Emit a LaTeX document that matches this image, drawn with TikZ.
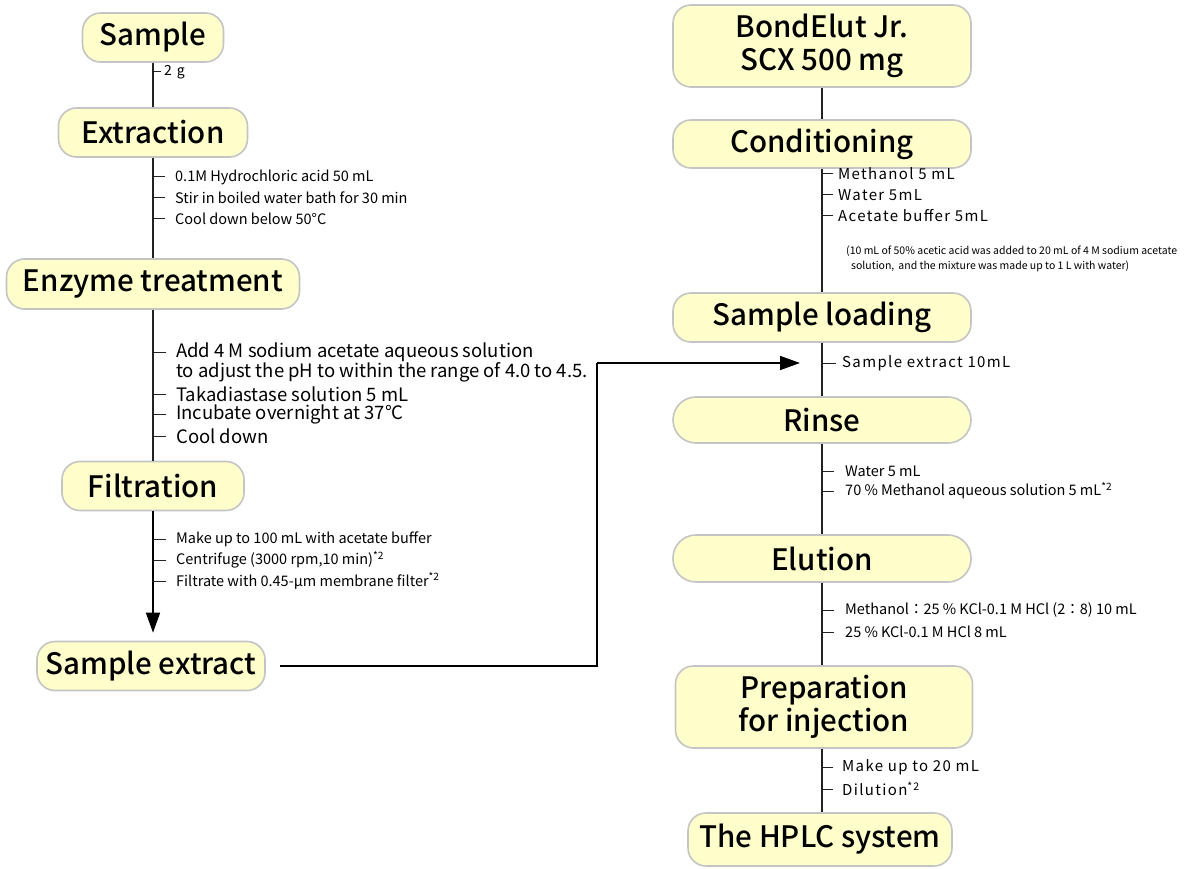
\documentclass[tikz,border=0pt]{standalone}
\usepackage{fontspec}
\setmainfont{Noto Sans CJK JP}[BoldFont={Noto Sans CJK JP Medium}]
\usetikzlibrary{arrows.meta,positioning}
\definecolor{boxfill}{RGB}{255,255,204}
\definecolor{boxline}{RGB}{196,196,196}
\definecolor{spine}{RGB}{34,34,34}
\tikzset{
  stepbox/.style={rectangle, rounded corners=18pt, draw=boxline, line width=1.6pt, fill=boxfill,
    align=center, inner sep=0pt, font=\fontsize{29.5}{33}\selectfont\bfseries},
  pillbox/.style={stepbox, rounded corners=23pt},
  link/.style={draw=spine, line width=1.4pt},
  tick/.style={draw=spine, line width=1pt},
  flow/.style={draw=black, line width=1.6pt, -{Triangle[length=20pt,width=14pt]}},
  note/.style={anchor=west, inner sep=0pt, font=\fontsize{14.5}{16}\selectfont},
  bignote/.style={anchor=west, inner sep=0pt, font=\fontsize{18.5}{20}\selectfont},
  wide/.style={anchor=west, inner sep=0pt, font=\fontsize{15}{17}\selectfont\addfontfeatures{LetterSpace=9}},
  tiny/.style={anchor=west, inner sep=0pt, font=\fontsize{10.5}{12}\selectfont}
}

\begin{document}
\begin{tikzpicture}[x=1pt, y=-1pt]
    \useasboundingbox (0,0) rectangle (1195,869);

    % Left column: sample preparation
    \node[stepbox, minimum width=141pt, minimum height=49pt] (sample) at (153,37.5) {Sample};
    \node[stepbox, minimum width=189pt, minimum height=49pt] (extraction) at (153,132.5) {Extraction};
    \node[stepbox, minimum width=293pt, minimum height=50pt] (enzyme) at (153,284) {Enzyme treatment};
    \node[stepbox, minimum width=182pt, minimum height=49pt] (filtration) at (153,486) {Filtration};
    \node[stepbox, minimum width=228pt, minimum height=49pt] (extract) at (151,666) {Sample extract};

    \draw[link] (sample) -- (extraction);
    \draw[link] (extraction) -- (enzyme);
    \draw[link] (enzyme) -- (filtration);
    \draw[flow, shorten >=8pt] (filtration) -- (filtration |- extract.north);

    % Left column: conditions
    \node[wide, font=\fontsize{14}{16}\selectfont\addfontfeatures{LetterSpace=12}] (grams) at (164,72) {2 g};
    \draw[tick] (153,72) -- ++(8,0);

    \node[note] (hcl) at (175,177) {0.1M Hydrochloric acid 50 mL};
    \node[note] (stir) at (175,198) {Stir in boiled water bath for 30 min};
    \node[note] (cool) at (175,219) {Cool down below 50°C};
    \foreach \y in {177,198,219} \draw[tick] (153,\y) -- ++(12,0);

    \node[bignote] (acetate) at (176,352) {Add 4 M sodium acetate aqueous solution};
    \node[bignote] (ph) at (176,372) {to adjust the pH to within the range of 4.0 to 4.5.};
    \node[bignote] (taka) at (176,394) {Takadiastase solution 5 mL};
    \node[bignote] (incubate) at (176,414) {Incubate overnight at 37°C};
    \node[bignote] (cooldown) at (176,436) {Cool down};
    \foreach \y in {352,394,414,436} \draw[tick] (153,\y) -- ++(13,0);

    \node[note] (makeup) at (176,539) {Make up to 100 mL with acetate buffer};
    \node[note] (centri) at (176,560) {Centrifuge (3000 rpm,10 min)\textsuperscript{*2}};
    \node[note] (filtrate) at (176,581) {Filtrate with 0.45-µm membrane filter\textsuperscript{*2}};
    \foreach \y in {539,560,581} \draw[tick] (153,\y) -- ++(13,0);

    % Right column: solid phase clean-up
    \node[stepbox, minimum width=298pt, minimum height=82pt] (column) at (822,46) {BondElut Jr.\\SCX 500 mg};
    \node[stepbox, minimum width=298pt, minimum height=48pt] (cond) at (822,144) {Conditioning};
    \node[stepbox, minimum width=298pt, minimum height=49pt] (loading) at (822,317.5) {Sample loading};
    \node[pillbox, minimum width=298pt, minimum height=46pt] (rinse) at (822,420) {Rinse};
    \node[pillbox, minimum width=298pt, minimum height=47pt] (elution) at (822,558.5) {Elution};
    \node[stepbox, minimum width=297pt, minimum height=82pt] (prep) at (824,707) {Preparation\\for injection};
    \node[stepbox, minimum width=264pt, minimum height=53pt] (hplc) at (820,839.5) {The HPLC system};

    \draw[link] (column) -- (cond);
    \draw[link] (cond) -- (loading);
    \draw[link] (loading) -- (rinse);
    \draw[link] (rinse) -- (elution);
    \draw[link] (elution) -- (elution |- prep.north);
    \draw[link] (elution |- prep.south) -- (elution |- hplc.north);

    % Right column: conditions
    \node[wide] (meoh) at (838,174) {Methanol 5 mL};
    \node[wide] (water) at (838,195) {Water 5mL};
    \node[wide] (buffer) at (838,216) {Acetate buffer 5mL};
    \foreach \y in {174,195,216} \draw[tick] (822,\y) -- ++(11,0);
    \node[tiny] (recipe1) at (846,251) {(10 mL of 50\% acetic acid was added to 20 mL of 4 M sodium acetate};
    \node[tiny] (recipe2) at (851,266) {solution,\, and the mixture was made up to 1 L with water)};

    \node[wide] (load) at (842,363) {Sample extract 10mL};
    \draw[tick] (822,363) -- ++(14,0);

    \node[note] (rwater) at (845,471) {Water 5 mL};
    \node[note] (rmeoh) at (845,491) {70 \% Methanol aqueous solution 5 mL\textsuperscript{*2}};
    \foreach \y in {471,491} \draw[tick] (822,\y) -- ++(12,0);

    \node[note] (emix) at (845,610) {Methanol：25 \% KCl-0.1 M HCl (2：8) 10 mL};
    \node[note] (ekcl) at (845,632) {25 \% KCl-0.1 M HCl 8 mL};
    \foreach \y in {610,632} \draw[tick] (822,\y) -- ++(12,0);

    \node[wide] (volume) at (842,767) {Make up to 20 mL};
    \node[wide] (dilute) at (842,789) {Dilution\textsuperscript{*2}};
    \foreach \y in {767,789} \draw[tick] (822,\y) -- ++(11,0);

    % Transfer of the extract
    \coordinate (turn) at (597,363);
    \coordinate (inlet) at (800,363);
    \draw[flow, -] ([xshift=14pt]extract.east) -| (turn);
    \draw[flow] (turn) -- (inlet);
\end{tikzpicture}
\end{document}
